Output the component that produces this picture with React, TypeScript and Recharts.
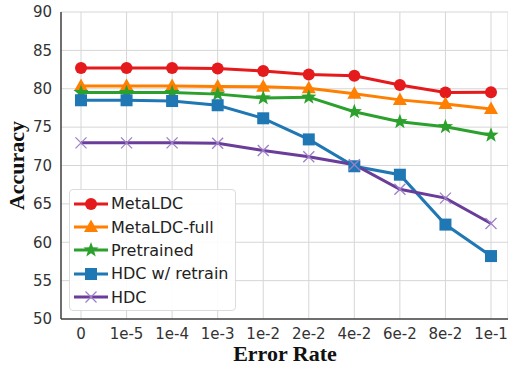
import React from 'react';
import { LineChart, Line, XAxis, YAxis, CartesianGrid } from 'recharts';

const categories = ['0', '1e-5', '1e-4', '1e-3', '1e-2', '2e-2', '4e-2', '6e-2', '8e-2', '1e-1'];
const metaLDC = [82.7, 82.7, 82.7, 82.65, 82.3, 81.85, 81.7, 80.5, 79.5, 79.55];
const metaLDCFull = [80.35, 80.35, 80.35, 80.3, 80.25, 80.05, 79.35, 78.55, 78.0, 77.35];
const pretrained = [79.5, 79.5, 79.5, 79.3, 78.8, 78.9, 77.0, 75.7, 75.05, 73.95];
const hdcRetrain = [78.5, 78.5, 78.4, 77.85, 76.15, 73.4, 69.9, 68.8, 62.3, 58.2];
const hdc = [72.95, 72.95, 72.95, 72.9, 71.95, 71.15, 70.1, 66.9, 65.75, 62.45];
const yTicks = [50, 55, 60, 65, 70, 75, 80, 85, 90];

const data = categories.map((c, i) => ({
  cat: c,
  metaLDC: metaLDC[i],
  metaLDCFull: metaLDCFull[i],
  pretrained: pretrained[i],
  hdcRetrain: hdcRetrain[i],
  hdc: hdc[i],
}));

const RED = '#e41a1c';
const ORANGE = '#ff7f00';
const GREEN = '#2ca02c';
const BLUE = '#1f77b4';
const PURPLE = '#6a3d9a';
const XMARK = '#9d7fc9';

type Shape = 'circle' | 'triangle' | 'star' | 'square' | 'x';

function starPath(cx: number, cy: number, R: number, r: number) {
  const pts: string[] = [];
  for (let k = 0; k < 10; k++) {
    const rad = k % 2 === 0 ? R : r;
    const a = -Math.PI / 2 + (k * Math.PI) / 5;
    pts.push(`${(cx + rad * Math.cos(a)).toFixed(2)},${(cy + rad * Math.sin(a)).toFixed(2)}`);
  }
  return 'M' + pts.join('L') + 'Z';
}

function Marker({ shape, cx, cy, color }: { shape: Shape; cx: number; cy: number; color: string }) {
  switch (shape) {
    case 'circle':
      return <circle cx={cx} cy={cy} r={6} fill={color} />;
    case 'triangle':
      return <path d={`M${cx},${cy - 7.5}L${cx + 7},${cy + 5}L${cx - 7},${cy + 5}Z`} fill={color} />;
    case 'star':
      return <path d={starPath(cx, cy, 8, 3.3)} fill={color} />;
    case 'square':
      return <rect x={cx - 6} y={cy - 6} width={12} height={12} fill={color} />;
    case 'x':
      return (
        <g stroke={XMARK} strokeWidth={1.3}>
          <line x1={cx - 5.5} y1={cy - 5.5} x2={cx + 5.5} y2={cy + 5.5} />
          <line x1={cx - 5.5} y1={cy + 5.5} x2={cx + 5.5} y2={cy - 5.5} />
        </g>
      );
  }
  return null;
}

const makeDot = (shape: Shape, color: string) => (props: any) => {
  const { cx, cy, index } = props;
  if (cx == null || cy == null) return <g key={index} />;
  return (
    <g key={`${shape}-${index}`}>
      <Marker shape={shape} cx={cx} cy={cy} color={color} />
    </g>
  );
};

const series: { key: string; name: string; color: string; shape: Shape }[] = [
  { key: 'metaLDC', name: 'MetaLDC', color: RED, shape: 'circle' },
  { key: 'metaLDCFull', name: 'MetaLDC-full', color: ORANGE, shape: 'triangle' },
  { key: 'pretrained', name: 'Pretrained', color: GREEN, shape: 'star' },
  { key: 'hdcRetrain', name: 'HDC w/ retrain', color: BLUE, shape: 'square' },
  { key: 'hdc', name: 'HDC', color: PURPLE, shape: 'x' },
];

const LegendBox = () => (
  <div
    style={{
      position: 'absolute',
      left: 69,
      top: 189,
      width: 167,
      height: 122,
      boxSizing: 'border-box',
      border: '1px solid #dcdcdc',
      borderRadius: 4,
      background: 'rgba(255,255,255,0.9)',
      padding: '2px 0 0 4px',
      fontFamily: '"DejaVu Sans", sans-serif',
      fontSize: 16,
      color: '#222',
      whiteSpace: 'nowrap',
    }}
  >
    {series.map((s) => (
      <div key={s.key} style={{ display: 'flex', alignItems: 'center', height: 23.4 }}>
        <svg width={36} height={16} style={{ marginRight: 1, flex: 'none' }}>
          <line x1={0} y1={8} x2={34} y2={8} stroke={s.color} strokeWidth={3} />
          <Marker shape={s.shape} cx={17} cy={8} color={s.color} />
        </svg>
        <span>{s.name}</span>
      </div>
    ))}
  </div>
);

export default function App() {
  return (
    <div style={{ position: 'absolute', left: 0, top: 0, width: 508, height: 366, background: '#fff' }}>
      <LineChart width={508} height={366} data={data} margin={{ top: 12, right: 0, left: 0, bottom: 0 }}>
        <CartesianGrid stroke="#d6d6d6" strokeWidth={1} />
        <XAxis
          dataKey="cat"
          height={47}
          padding={{ left: 20, right: 17 }}
          tickLine={false}
          tickSize={9}
          tickMargin={0}
          axisLine={{ stroke: '#444', strokeWidth: 1.5 }}
          tick={{ fill: '#333', fontSize: 15, fontFamily: '"DejaVu Sans", sans-serif' }}
          interval={0}
          label={{
            content: () => (
              <text
                x={285}
                y={361}
                textAnchor="middle"
                fontFamily='"Liberation Serif", "DejaVu Serif", serif'
                fontWeight="bold"
                fontSize={22}
                fill="#111"
              >
                Error Rate
              </text>
            ),
          }}
        />
        <YAxis
          width={61}
          domain={[50, 90]}
          ticks={yTicks}
          interval={0}
          tickLine={false}
          tickSize={9}
          tickMargin={0}
          axisLine={{ stroke: '#444', strokeWidth: 1.5 }}
          tick={{ fill: '#333', fontSize: 15, fontFamily: '"DejaVu Sans", sans-serif' }}
          label={{
            content: () => (
              <text
                x={0}
                y={0}
                transform="translate(24,165.5) rotate(-90)"
                textAnchor="middle"
                fontFamily='"Liberation Serif", "DejaVu Serif", serif'
                fontWeight="bold"
                fontSize={22}
                fill="#111"
              >
                Accuracy
              </text>
            ),
          }}
        />
        {series.map((s) => (
          <Line
            key={s.key}
            dataKey={s.key}
            name={s.name}
            stroke={s.color}
            strokeWidth={3}
            dot={makeDot(s.shape, s.color)}
            activeDot={false}
            isAnimationActive={false}
          />
        ))}
      </LineChart>
      <LegendBox />
    </div>
  );
}
